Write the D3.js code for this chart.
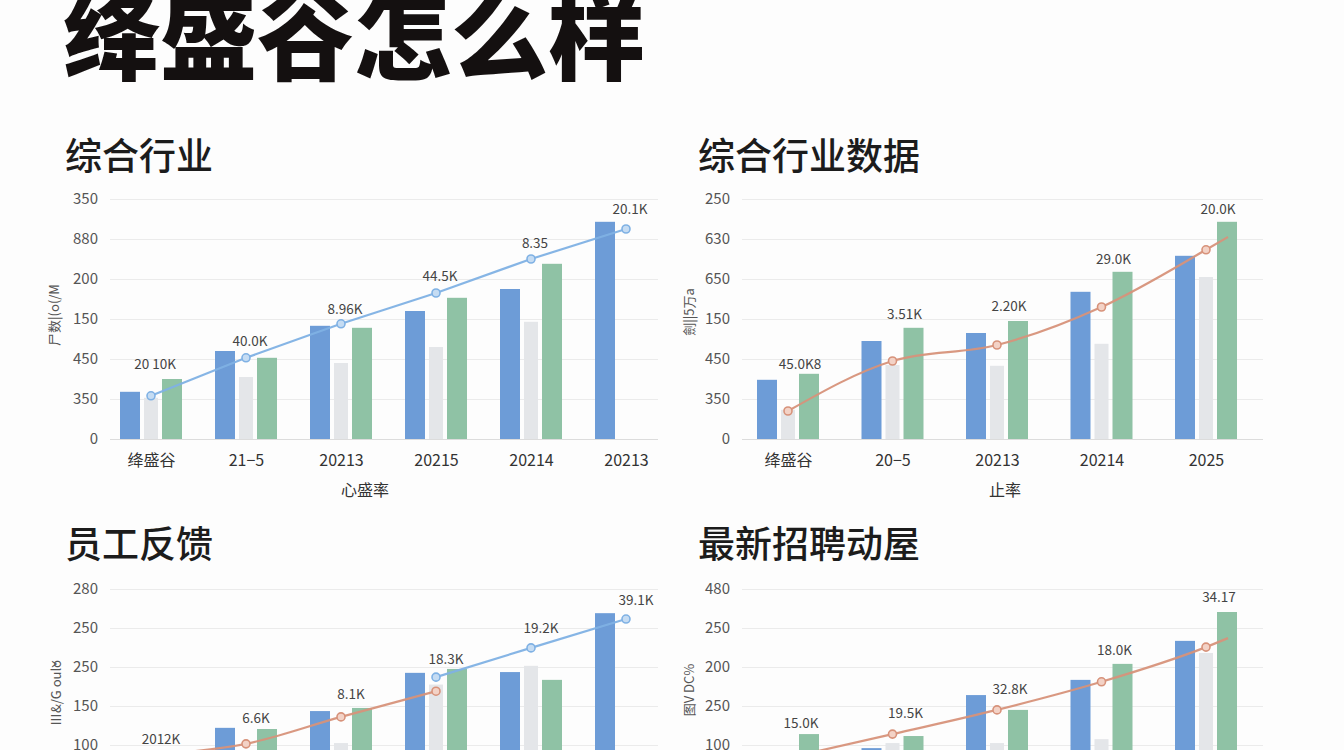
<!DOCTYPE html>
<html>
<head>
<meta charset="utf-8">
<script src="https://cdn.jsdelivr.net/npm/d3@7"></script>
<style>
  html, body { margin: 0; padding: 0; background: #fdfdfd; overflow: hidden; }
  svg { display: block; }
  text { font-family: "Noto Sans CJK SC", "Noto Sans", sans-serif; }
</style>
</head>
<body>
<svg id="chart" width="1344" height="750"></svg>
<script>
// ---------------- DATA ----------------
const mainTitle = "绛盛谷怎么样";

// Panel 1: 综合行业
const p1Title = "综合行业";
const p1Categories = ["绛盛谷", "21−5", "20213", "20215", "20214", "20213"];
const p1TickLabels = ["350", "880", "200", "150", "450", "350", "0"]; // top -> bottom
const p1Blue  = [1.18, 2.20, 2.83, 3.20, 3.75, 5.43];
const p1Gray  = [1.03, 1.55, 1.90, 2.30, 2.93, null];
const p1Green = [1.50, 2.03, 2.78, 3.53, 4.38, null];
const p1LineBlue = [1.08, 2.03, 2.88, 3.65, 4.50, 5.25];
const p1Labels = ["20 10K", "40.0K", "8.96K", "44.5K", "8.35", "20.1K"];
const p1LabelLevel = [1.90, 2.48, 3.28, 4.10, 4.93, 5.78];
const p1YTitle = "尸数|(o(/M";
const p1XTitle = "心盛率";

// Panel 2: 综合行业数据
const p2Title = "综合行业数据";
const p2Categories = ["绛盛谷", "20−5", "20213", "20214", "2025"];
const p2TickLabels = ["250", "630", "650", "150", "450", "350", "0"];
const p2Blue  = [1.48, 2.45, 2.65, 3.68, 4.58];
const p2Gray  = [0.73, 1.85, 1.83, 2.38, 4.05];
const p2Green = [1.63, 2.78, 2.95, 4.18, 5.43];
const p2LineOrange = [0.70, 1.95, 2.35, 3.30, 4.73];
const p2LineTail = 5.05;
const p2Labels = ["45.0K8", "3.51K", "2.20K", "29.0K", "20.0K"];
const p2LabelLevel = [1.90, 3.15, 3.35, 4.53, 5.78];
const p2YTitle = "劍||5万a";
const p2XTitle = "止率";

// Panel 3: 员工反馈 (only the upper five gridlines are visible)
const p3Title = "员工反馈";
const p3Categories = ["绛盛谷", "21−5", "20213", "20215", "20214", "20213"];
const p3TickLabels = ["280", "250", "250", "150", "100", null, null];
const p3Blue  = [1.30, 2.44, 2.87, 3.85, 3.87, 5.38];
const p3Gray  = [1.20, 1.60, 2.05, 3.55, 4.03, null];
const p3Green = [1.50, 2.41, 2.95, 3.95, 3.67, null];
const p3LineOrange = [1.74, 2.03, 2.72, 3.38, null, null];
const p3LineBlue = [null, null, null, 3.74, 4.49, 5.23];
const p3Labels = ["2012K", "6.6K", "8.1K", "18.3K", "19.2K", "39.1K"];
const p3LabelLevel = [2.18, 2.72, 3.33, 4.23, 5.03, 5.74];
const p3YTitle = "Ⅲ&/G ouľo";

// Panel 4: 最新招聘动屋
const p4Title = "最新招聘动屋";
const p4Categories = ["绛盛谷", "20−5", "20213", "20214", "2025"];
const p4TickLabels = ["480", "250", "200", "250", "100", null, null];
const p4Blue  = [1.30, 1.92, 3.28, 3.67, 4.67];
const p4Gray  = [1.20, 2.05, 2.05, 2.15, 4.36];
const p4Green = [2.28, 2.23, 2.90, 4.08, 5.41];
const p4LineOrange = [1.67, 2.28, 2.90, 3.62, 4.51];
const p4LineTail = 4.74;
const p4Labels = ["15.0K", "19.5K", "32.8K", "18.0K", "34.17"];
const p4LabelLevel = [2.59, 2.85, 3.46, 4.46, 5.82];
const p4YTitle = "图V DC%";

// ---------------- STYLE / LAYOUT ----------------
const C = {
  blue: "#6d9cd7", gray: "#e4e6e9", green: "#8fc2a5",
  lineBlue: "#7fb1e4", lineOrange: "#d7927a",
  grid: "#ebebeb", base: "#dcdcdc", tick: "#555", text: "#333"
};

const svg = d3.select("#chart");

svg.append("text")
  .attr("x", 63).attr("y", 72)
  .attr("font-size", 97).attr("font-weight", 900)
  .attr("fill", "#141010")
  .text(mainTitle);

const panels = [
  { title: p1Title, tx: 65, ty: 170, cats: p1Categories, ticks: p1TickLabels,
    blue: p1Blue, gray: p1Gray, green: p1Green, lineBlue: p1LineBlue, lineOrange: null,
    labels: p1Labels, labelLevel: p1LabelLevel, tail: null, showX: true,
    gx0: 110, gx1: 658, top: 199, bottom: 439, cr: [151, 626], labelDx: 4,
    yTitle: p1YTitle, ytx: 53, yty: 315, xTitle: p1XTitle, xtx: 365 },
  { title: p2Title, tx: 698, ty: 170, cats: p2Categories, ticks: p2TickLabels,
    blue: p2Blue, gray: p2Gray, green: p2Green, lineBlue: null, lineOrange: p2LineOrange,
    labels: p2Labels, labelLevel: p2LabelLevel, tail: p2LineTail, showX: true,
    gx0: 742, gx1: 1263, top: 199, bottom: 439, cr: [788, 1206], labelDx: 12,
    yTitle: p2YTitle, ytx: 688, yty: 312, xTitle: p2XTitle, xtx: 1005 },
  { title: p3Title, tx: 65, ty: 558, cats: p3Categories, ticks: p3TickLabels,
    blue: p3Blue, gray: p3Gray, green: p3Green, lineBlue: p3LineBlue, lineOrange: p3LineOrange,
    labels: p3Labels, labelLevel: p3LabelLevel, tail: null, showX: false,
    gx0: 110, gx1: 658, top: 589, bottom: 823, cr: [151, 626], labelDx: 10,
    yTitle: p3YTitle, ytx: 55, yty: 693, xTitle: null },
  { title: p4Title, tx: 698, ty: 558, cats: p4Categories, ticks: p4TickLabels,
    blue: p4Blue, gray: p4Gray, green: p4Green, lineBlue: null, lineOrange: p4LineOrange,
    labels: p4Labels, labelLevel: p4LabelLevel, tail: p4LineTail, showX: false,
    gx0: 742, gx1: 1263, top: 589, bottom: 823, cr: [788, 1206], labelDx: 13,
    yTitle: p4YTitle, ytx: 688, yty: 690, xTitle: null }
];

panels.forEach(drawPanel);

function drawPanel(p) {
  const g = svg.append("g");

  g.append("text").attr("x", p.tx).attr("y", p.ty)
    .attr("font-size", 37).attr("font-weight", 500).attr("fill", "#1c1c1c")
    .text(p.title);

  const y = d3.scaleLinear().domain([0, 6]).range([p.bottom, p.top]);
  const x = d3.scalePoint().domain(d3.range(p.cats.length)).range(p.cr);

  // y axis + grid (only ticks that carry a label are drawn)
  const tv = d3.range(7).filter(i => p.ticks[6 - i] != null);
  const yAxis = d3.axisLeft(y)
    .tickValues(tv)
    .tickFormat(i => p.ticks[6 - i])
    .tickSize(-(p.gx1 - p.gx0))
    .tickPadding(12);
  const ya = g.append("g").attr("transform", `translate(${p.gx0},0)`).call(yAxis);
  ya.select(".domain").remove();
  ya.selectAll(".tick line").attr("stroke", (d) => d === 0 ? C.base : C.grid).attr("stroke-width", 1.2);
  ya.selectAll(".tick text").attr("fill", C.tick).attr("font-size", 15)
    .style("font-family", '"Noto Sans CJK SC", sans-serif');

  // x axis (category labels; lower panels are cropped below the view)
  if (p.showX) {
    const xAxis = d3.axisBottom(x).tickSize(0).tickPadding(16).tickFormat(i => p.cats[i]);
    const xa = g.append("g").attr("transform", `translate(0,${p.bottom})`).call(xAxis);
    xa.select(".domain").remove();
    xa.selectAll(".tick text").attr("fill", C.text).attr("font-size", 16)
      .style("font-family", '"Noto Sans CJK SC", sans-serif');
  }

  // axis titles
  g.append("text")
    .attr("transform", `translate(${p.ytx},${p.yty}) rotate(-90)`)
    .attr("text-anchor", "middle").attr("dominant-baseline", "central")
    .attr("font-size", 13).attr("fill", "#555")
    .text(p.yTitle);
  if (p.xTitle) {
    g.append("text").attr("x", p.xtx).attr("y", p.bottom + 57)
      .attr("text-anchor", "middle").attr("font-size", 16).attr("fill", C.text)
      .text(p.xTitle);
  }

  // bars
  const series = [
    { vals: p.blue, color: C.blue, off: -31, w: 20 },
    { vals: p.gray, color: C.gray, off: -7, w: 14 },
    { vals: p.green, color: C.green, off: 11, w: 20 }
  ];
  series.forEach(s => {
    g.append("g").selectAll("rect")
      .data(s.vals.map((v, i) => ({ v, i })).filter(d => d.v != null))
      .join("rect")
      .attr("x", d => x(d.i) + s.off)
      .attr("width", s.w)
      .attr("y", d => y(d.v))
      .attr("height", d => y(0) - y(d.v))
      .attr("fill", s.color);
  });

  // lines
  function drawLine(vals, color, curve, tail) {
    const pts = vals.map((v, i) => ({ v, i, px: x(i) })).filter(d => d.v != null);
    const path = pts.map(d => [d.px, y(d.v)]);
    if (tail != null) path.push([x(vals.length - 1) + 22, y(tail)]);
    g.append("path")
      .attr("d", d3.line().curve(curve)(path))
      .attr("fill", "none").attr("stroke", color).attr("stroke-width", 2.2)
      .attr("opacity", 0.95);
    g.append("g").selectAll("circle").data(pts).join("circle")
      .attr("cx", d => d.px).attr("cy", d => y(d.v)).attr("r", 4)
      .attr("fill", color === C.lineBlue ? "#c5dcf3" : "#f3d2c6")
      .attr("stroke", color).attr("stroke-width", 1.6);
  }
  if (p.lineOrange) drawLine(p.lineOrange, C.lineOrange, d3.curveMonotoneX, p.tail);
  if (p.lineBlue) drawLine(p.lineBlue, C.lineBlue, d3.curveLinear, null);

  // data labels
  g.append("g").selectAll("text")
    .data(p.labels.map((t, i) => ({ t, i })))
    .join("text")
    .attr("x", d => x(d.i) + p.labelDx)
    .attr("y", d => y(p.labelLevel[d.i]))
    .attr("text-anchor", "middle").attr("dominant-baseline", "central")
    .attr("font-size", 13.5).attr("fill", "#444")
    .text(d => d.t);
}
</script>
</body>
</html>
